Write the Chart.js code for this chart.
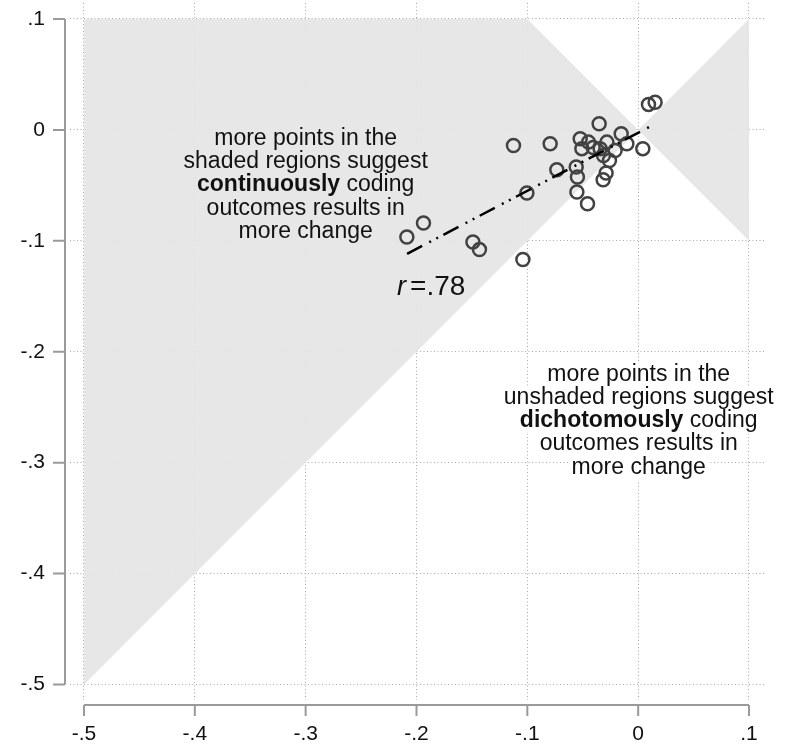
<!DOCTYPE html>
<html>
<head>
<meta charset="utf-8">
<script src="https://cdn.jsdelivr.net/npm/chart.js@4.4.1/dist/chart.umd.min.js"></script>
<style>
  body { margin: 0; background: #fff; }
  #wrap { width: 795px; height: 747px; }
</style>
</head>
<body>
<div id="wrap"><canvas id="grafico" width="795" height="747"></canvas></div>
<script>
// points
const pontosX = [-0.2087, -0.1937, -0.1491, -0.1432, -0.1125, -0.1040, -0.1004, -0.0794, -0.0734, -0.0559,
                 -0.0548, -0.0553, -0.0457, -0.0523, -0.0448, -0.0508, -0.0352, -0.0406, -0.0282, -0.0343,
                 -0.0153, -0.0102, -0.0208, 0.0042, -0.0313, -0.0259, -0.0289, -0.0316, 0.0093, 0.0153];
const pontosY = [-0.0966, -0.0840, -0.1011, -0.1079, -0.0140, -0.1169, -0.0569, -0.0124, -0.0359, -0.0335,
                 -0.0425, -0.0560, -0.0665, -0.0079, -0.0110, -0.0169, 0.0056, -0.0158, -0.0110, -0.0169,
                 -0.0034, -0.0124, -0.0185, -0.0169, -0.0230, -0.0275, -0.0389, -0.0449, 0.0230, 0.0250];

// fitted line ends
const retaX = [-0.2085, 0.0135];
const retaY = [-0.1117, 0.0045];

// shaded regions (|y| < |x|)
const sombraEsqX = [-0.5, -0.5, -0.1, 0, -0.5];
const sombraEsqY = [-0.5, 0.1, 0.1, 0, -0.5];
const sombraDirX = [0, 0.1, 0.1, 0];
const sombraDirY = [0, 0.1, -0.1, 0];

const ticksValores = [-0.5, -0.4, -0.3, -0.2, -0.1, 0, 0.1];
const ticksRotulos = ['-.5', '-.4', '-.3', '-.2', '-.1', '0', '.1'];

const textoSombreado = [
  ['', 'more points in the'],
  ['', 'shaded regions suggest'],
  ['continuously', ' coding'],
  ['', 'outcomes results in'],
  ['', 'more change']
];
const textoBranco = [
  ['', 'more points in the'],
  ['', 'unshaded regions suggest'],
  ['dichotomously', ' coding'],
  ['', 'outcomes results in'],
  ['', 'more change']
];
const rotuloR = '=.78';

const FONTE = "'Liberation Sans', Arial, Helvetica, sans-serif";
const COR_EIXO = '#9a9a9a';

function juntar(xs, ys) {
  return xs.map((x, i) => ({ x: x, y: ys[i] }));
}

function desenharBloco(ctx, linhas, cx, y0, passo, soFundo) {
  const tam = 23;
  linhas.forEach(([negrito, resto], i) => {
    const y = y0 + i * passo;
    ctx.font = 'bold ' + tam + 'px ' + FONTE;
    const wb = negrito ? ctx.measureText(negrito).width : 0;
    ctx.font = tam + 'px ' + FONTE;
    const wr = ctx.measureText(resto).width;
    const x0 = cx - (wb + wr) / 2;
    if (soFundo) {
      ctx.fillStyle = '#ffffff';
      ctx.fillRect(x0 - 2, y - 17, wb + wr + 4, passo);
      return;
    }
    ctx.fillStyle = '#111111';
    ctx.textBaseline = 'alphabetic';
    ctx.textAlign = 'left';
    if (negrito) {
      ctx.font = 'bold ' + tam + 'px ' + FONTE;
      ctx.fillText(negrito, x0, y);
    }
    ctx.font = tam + 'px ' + FONTE;
    ctx.fillText(resto, x0 + wb, y);
  });
}

const anotacoes = {
  id: 'anotacoes',
  beforeDatasetsDraw(chart) {
    const { ctx, scales: { x, y } } = chart;
    ctx.save();
    desenharBloco(ctx, textoSombreado, x.getPixelForValue(-0.3), y.getPixelForValue(-0.0135), 23.3, true);
    desenharBloco(ctx, textoBranco, x.getPixelForValue(0.0005), y.getPixelForValue(-0.226), 23.3, true);
    ctx.restore();
  },
  afterDatasetsDraw(chart) {
    const { ctx, scales: { x, y } } = chart;
    ctx.save();
    desenharBloco(ctx, textoSombreado, x.getPixelForValue(-0.3), y.getPixelForValue(-0.0135), 23.3, false);
    desenharBloco(ctx, textoBranco, x.getPixelForValue(0.0005), y.getPixelForValue(-0.226), 23.3, false);

    // r =.78
    const rx = x.getPixelForValue(-0.2175);
    const ry = y.getPixelForValue(-0.149);
    ctx.fillStyle = '#111111';
    ctx.textBaseline = 'alphabetic';
    ctx.textAlign = 'left';
    ctx.font = 'italic 27px ' + FONTE;
    ctx.fillText('r', rx, ry);
    const wr = ctx.measureText('r').width;
    ctx.font = '28px ' + FONTE;
    ctx.fillText(rotuloR, rx + wr + 4, ry);
    ctx.restore();
  },
  afterDraw(chart) {
    const { ctx, chartArea, scales: { x, y } } = chart;
    ctx.save();
    ctx.strokeStyle = COR_EIXO;
    ctx.lineWidth = 2;
    // eixo y
    const ex = chartArea.left - 5;
    ctx.beginPath();
    ctx.moveTo(ex, y.getPixelForValue(0.1));
    ctx.lineTo(ex, y.getPixelForValue(-0.5));
    ticksValores.forEach(v => {
      const py = y.getPixelForValue(v);
      ctx.moveTo(ex, py);
      ctx.lineTo(ex - 12, py);
    });
    // eixo x
    const ey = chartArea.bottom + 5;
    ctx.moveTo(x.getPixelForValue(-0.5), ey);
    ctx.lineTo(x.getPixelForValue(0.1), ey);
    ticksValores.forEach(v => {
      const px = x.getPixelForValue(v);
      ctx.moveTo(px, ey);
      ctx.lineTo(px, ey + 11);
    });
    ctx.stroke();
    ctx.restore();
  }
};

function eixo(min, max, lado) {
  return {
    type: 'linear',
    min: min,
    max: max,
    afterBuildTicks: s => { s.ticks = ticksValores.map(v => ({ value: v })); },
    afterFit: s => {
      if (lado === 'y') {
        s.width = 70;
        s.paddingTop = 0;
        s.paddingBottom = 0;
      } else {
        s.height = 47;
        s.paddingLeft = 0;
        s.paddingRight = 0;
      }
    },
    grid: {
      color: '#a8a8a8',
      lineWidth: 1,
      drawTicks: false
    },
    border: { display: false, dash: [1, 2.5] },
    ticks: {
      color: '#111111',
      font: { family: FONTE, size: 21 },
      padding: lado === 'y' ? 25 : 22,
      callback: (v) => {
        const i = ticksValores.findIndex(t => Math.abs(t - v) < 1e-9);
        return i >= 0 ? ticksRotulos[i] : '';
      }
    }
  };
}

new Chart(document.getElementById('grafico'), {
  type: 'scatter',
  data: {
    datasets: [
      {
        data: juntar(retaX, retaY),
        showLine: true,
        borderColor: '#000000',
        borderWidth: 2.5,
        borderDash: [17, 8, 2, 6, 2, 6],
        pointRadius: 0,
        fill: false,
        order: 0
      },
      {
        data: juntar(pontosX, pontosY),
        pointRadius: 6.5,
        pointBorderWidth: 2.5,
        borderColor: '#424242',
        backgroundColor: 'rgba(0,0,0,0)',
        order: 1
      },
      {
        data: juntar(sombraEsqX, sombraEsqY),
        showLine: true,
        fill: 'shape',
        backgroundColor: 'rgba(229,229,229,0.93)',
        borderColor: 'rgba(0,0,0,0)',
        borderWidth: 0,
        pointRadius: 0,
        tension: 0,
        order: 2
      },
      {
        data: juntar(sombraDirX, sombraDirY),
        showLine: true,
        fill: 'shape',
        backgroundColor: 'rgba(229,229,229,0.93)',
        borderColor: 'rgba(0,0,0,0)',
        borderWidth: 0,
        pointRadius: 0,
        tension: 0,
        order: 3
      }
    ]
  },
  options: {
    responsive: false,
    animation: false,
    layout: { autoPadding: false, padding: { top: 3, right: 30, left: 0, bottom: 0 } },
    plugins: {
      legend: { display: false },
      tooltip: { enabled: false }
    },
    scales: {
      x: eixo(-0.51263, 0.11444, 'x'),
      y: eixo(-0.51397, 0.11442, 'y')
    }
  },
  plugins: [anotacoes]
});
</script>
</body>
</html>
